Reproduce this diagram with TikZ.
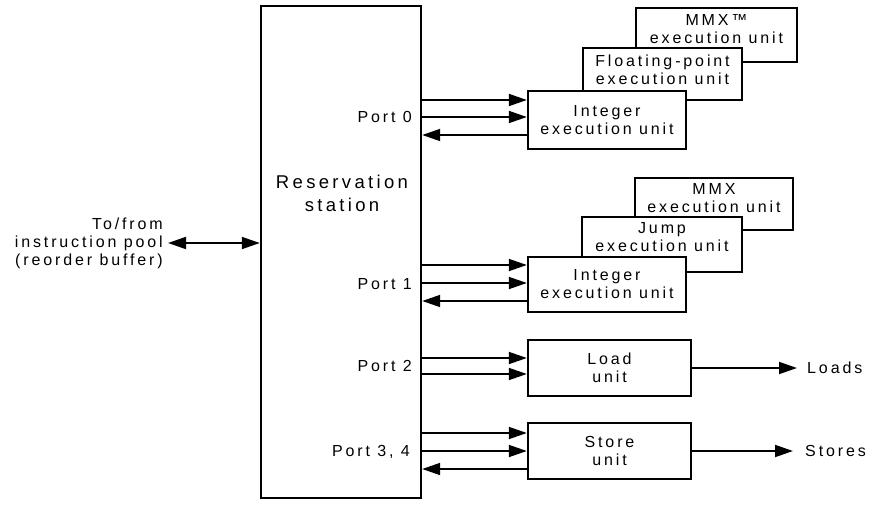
\documentclass[tikz,border=0pt]{standalone}
\usepackage{fontspec}
\setmainfont{Liberation Sans}[LetterSpace=18]
\usetikzlibrary{arrows.meta}
\begin{document}
\begin{tikzpicture}[x=1pt,y=-1pt,
  unitbox/.style={draw,line width=2.4pt,fill=white,inner sep=0pt,align=center,
    font=\fontsize{16}{18}\selectfont},
  txt/.style={inner sep=0pt,align=center,font=\fontsize{16}{18}\selectfont},
  arr/.style={line width=1.8pt,-{Triangle[length=18pt,width=12pt]}},
  darr/.style={line width=1.8pt,{Triangle[length=18pt,width=12pt]}-{Triangle[length=18pt,width=12pt]}}]
\useasboundingbox (0,0) rectangle (874,505);

% reservation station
\node[unitbox,minimum width=160pt,minimum height=492pt] (rs) at (341,252) {};
\node[txt,font=\fontsize{18.5}{23}\selectfont] (rstxt) at (342,193) {Reservation\\station};

% port 0 group
\node[unitbox,minimum width=161pt,minimum height=54pt] (mmx0) at (716.5,35) {};
\node[txt,anchor=center] (mmx0t) at ([yshift=6pt]mmx0.center) {MMX\texttrademark\\execution unit};
\node[unitbox,minimum width=159pt,minimum height=52pt] (fp) at (662.5,74) {};
\node[txt] (fpt) at ([yshift=4pt]fp.center) {Floating-point\\execution unit};
\node[unitbox,minimum width=158pt,minimum height=58pt] (int0) at (607,120) {Integer\\execution unit};

% port 1 group
\node[unitbox,minimum width=158pt,minimum height=52pt] (mmx1) at (714,204) {};
\node[txt] (mmx1t) at ([yshift=6pt]mmx1.center) {MMX\\execution unit};
\node[unitbox,minimum width=160pt,minimum height=55pt] (jump) at (662,244.5) {};
\node[txt] (jumpt) at ([yshift=7pt]jump.center) {Jump\\execution unit};
\node[unitbox,minimum width=158pt,minimum height=55pt] (int1) at (607,284.5) {Integer\\execution unit};

% load / store
\node[unitbox,minimum width=163pt,minimum height=56pt] (load) at (609.5,368) {Load\\unit};
\node[unitbox,minimum width=163pt,minimum height=56pt] (store) at (609.5,451) {Store\\unit};

% port labels
\node[txt,anchor=east] (p0) at (412,117) {Port 0};
\node[txt,anchor=east] (p1) at (412,284) {Port 1};
\node[txt,anchor=east] (p2) at (412,366) {Port 2};
\node[txt,anchor=east] (p34) at (410,452) {Port 3, 4};

% port 0 arrows
\draw[arr] (rs.east |- 0,100) -- (int0.west |- 0,100);
\draw[arr] (rs.east |- 0,117) -- (int0.west |- 0,117);
\draw[arr] (int0.west |- 0,135) -- (rs.east |- 0,135);
% port 1 arrows
\draw[arr] (rs.east |- 0,265) -- (int1.west |- 0,265);
\draw[arr] (rs.east |- 0,283) -- (int1.west |- 0,283);
\draw[arr] (int1.west |- 0,301) -- (rs.east |- 0,301);
% port 2 arrows
\draw[arr] (rs.east |- 0,358) -- (load.west |- 0,358);
\draw[arr] (rs.east |- 0,374) -- (load.west |- 0,374);
% port 3,4 arrows
\draw[arr] (rs.east |- 0,433) -- (store.west |- 0,433);
\draw[arr] (rs.east |- 0,451) -- (store.west |- 0,451);
\draw[arr] (store.west |- 0,469) -- (rs.east |- 0,469);

% instruction pool
\node[txt,anchor=east,align=right] (pool) at (163,243) {To/from\\instruction pool\\(reorder buffer)};
\coordinate (poolend) at (168,243);
\draw[darr] (poolend) -- (rs.west |- poolend);

% outputs
\coordinate (loadsend) at (797,368);
\coordinate (storesend) at (793,451);
\draw[arr] (load.east) -- (loadsend);
\draw[arr] (store.east) -- (storesend);
\node[txt,anchor=west] (loads) at (807,368) {Loads};
\node[txt,anchor=west] (stores) at (805,451) {Stores};
\end{tikzpicture}
\end{document}
